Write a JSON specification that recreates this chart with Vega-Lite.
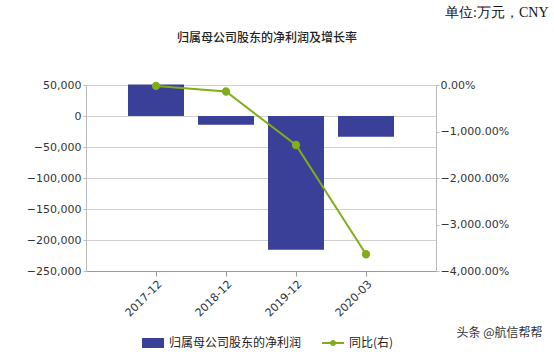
{
  "$schema": "https://vega.github.io/schema/vega-lite/v6.json",
  "autosize": "none",
  "width": 350,
  "height": 186,
  "padding": {"left": 86, "top": 85, "right": 118, "bottom": 86},
  "background": "#ffffff",
  "title": {
    "text": "归属母公司股东的净利润及增长率",
    "font": "Noto Sans CJK SC",
    "fontSize": 12,
    "fontWeight": 500,
    "color": "#222222",
    "anchor": "middle",
    "frame": "group",
    "offset": -40,
    "dx": 6
  },
  "data": {
    "values": [
      {"period": "2017-12", "profit": 51000, "yoy": -0.2, "s1": "归属母公司股东的净利润", "s2": "同比(右)"},
      {"period": "2018-12", "profit": -14000, "yoy": -1.4, "s1": "归属母公司股东的净利润", "s2": "同比(右)"},
      {"period": "2019-12", "profit": -215600, "yoy": -12.9, "s1": "归属母公司股东的净利润", "s2": "同比(右)"},
      {"period": "2020-03", "profit": -33400, "yoy": -36.4, "s1": "归属母公司股东的净利润", "s2": "同比(右)"}
    ]
  },
  "encoding": {
    "x": {
      "field": "period",
      "type": "ordinal",
      "scale": {"paddingInner": 0.2, "paddingOuter": 0.6},
      "axis": {
        "title": "头条 @航信帮帮",
        "titleFont": "Noto Sans CJK SC",
        "titleFontSize": 12,
        "titleFontWeight": "normal",
        "titleColor": "#333333",
        "titleAnchor": null,
        "titleAlign": "right",
        "titleBaseline": "middle",
        "titleX": 456,
        "titleY": 61,
        "labelAngle": -45,
        "labelFont": "DejaVu Sans",
        "labelFontSize": 11,
        "labelColor": "#333333",
        "labelPadding": 2,
        "tickSize": 5,
        "tickColor": "#999999",
        "domainColor": "#999999",
        "grid": false
      }
    }
  },
  "layer": [
    {
      "mark": {"type": "bar", "color": "#3a3f98"},
      "encoding": {
        "y": {
          "field": "profit",
          "type": "quantitative",
          "scale": {"domain": [-250000, 50000], "nice": false},
          "axis": {
            "title": null,
            "values": [50000, 0, -50000, -100000, -150000, -200000, -250000],
            "format": ",.0f",
            "labelFont": "DejaVu Sans",
            "labelFontSize": 11,
            "labelColor": "#333333",
            "labelPadding": 2,
            "tickSize": 3,
            "tickColor": "#bbbbbb",
            "domainColor": "#bbbbbb",
            "grid": true,
            "gridColor": "#d0d0d0"
          }
        },
        "fill": {
          "field": "s1",
          "type": "nominal",
          "scale": {"range": ["#3a3f98"]},
          "legend": {
            "orient": "none",
            "legendX": 61,
            "legendY": 252,
            "title": null,
            "symbolType": "M-2.2,-1H2.2V1H-2.2Z",
            "symbolSize": 100,
            "symbolStrokeWidth": 0,
            "labelFont": "Noto Sans CJK SC",
            "labelFontSize": 12,
            "labelColor": "#222222",
            "labelOffset": 10
          }
        }
      }
    },
    {
      "mark": {"type": "line", "color": "#82ad1a", "strokeWidth": 2, "point": {"filled": true, "size": 40, "color": "#82ad1a"}},
      "encoding": {
        "y": {
          "field": "yoy",
          "type": "quantitative",
          "scale": {"domain": [-40, 0], "nice": false},
          "axis": {
            "orient": "right",
            "title": "单位:万元，CNY",
            "titleFont": "Liberation Serif",
            "titleFontSize": 14,
            "titleFontWeight": "normal",
            "titleColor": "#111111",
            "titleAngle": 0,
            "titleAnchor": null,
            "titleAlign": "right",
            "titleBaseline": "middle",
            "titleX": 112,
            "titleY": -73,
            "values": [0, -10, -20, -30, -40],
            "format": ",.2%",
            "labelFont": "DejaVu Sans",
            "labelFontSize": 11,
            "labelColor": "#333333",
            "labelPadding": 1,
            "tickSize": 3,
            "tickColor": "#bbbbbb",
            "domainColor": "#bbbbbb",
            "grid": false
          }
        },
        "stroke": {
          "field": "s2",
          "type": "nominal",
          "scale": {"range": ["#82ad1a"]},
          "legend": {
            "orient": "none",
            "legendX": 241,
            "legendY": 252,
            "title": null,
            "symbolType": "M-2.2,-0.2H2.2V0.2H-2.2Z M0.6,0A0.6,0.6 0 1,1 -0.6,0A0.6,0.6 0 1,1 0.6,0Z",
            "symbolSize": 100,
            "symbolFillColor": "#82ad1a",
            "symbolStrokeWidth": 0,
            "labelFont": "Noto Sans CJK SC",
            "labelFontSize": 12,
            "labelColor": "#222222",
            "labelOffset": 10
          }
        }
      }
    }
  ],
  "resolve": {"scale": {"y": "independent", "fill": "independent", "stroke": "independent"}},
  "config": {
    "view": {"stroke": null},
    "axis": {"labelOverlap": false}
  }
}
